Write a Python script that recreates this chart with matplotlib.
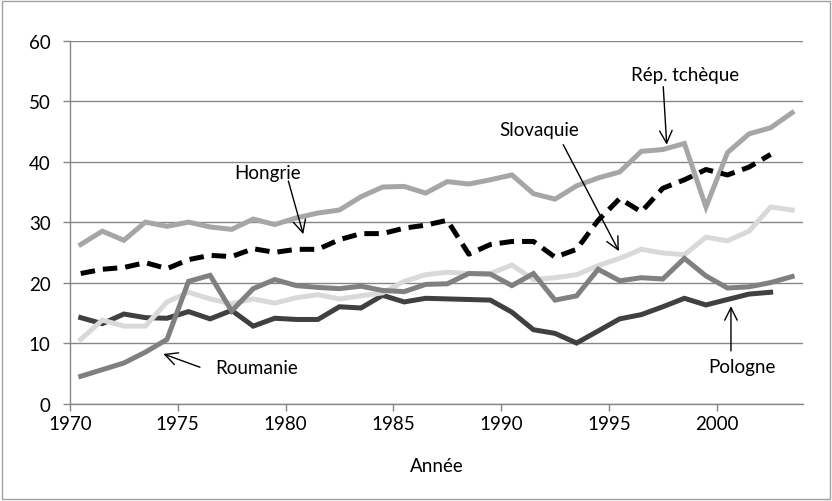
import matplotlib
matplotlib.use("Agg")
import matplotlib.pyplot as plt
from matplotlib.patches import Rectangle
import numpy as np

years = list(range(1970, 2004))

tcheque = [26.3, 28.5, 27.0, 30.0, 29.3, 30.0, 29.2, 28.8, 30.5, 29.6,
           30.7, 31.5, 32.0, 34.2, 35.8, 35.9, 34.8, 36.7, 36.3, 37.0,
           37.8, 34.7, 33.8, 36.0, 37.3, 38.3, 41.7, 42.0, 43.0, 32.5,
           41.5, 44.6, 45.6, 48.1]
hongrie = [21.5, 22.2, 22.5, 23.3, 22.3, 23.8, 24.5, 24.3, 25.6, 25.0,
           25.5, 25.5, 27.1, 28.1, 28.1, 29.0, 29.5, 30.3, 24.7, 26.3,
           26.8, 26.8, 24.2, 25.5, 30.3, 33.9, 31.7, 35.6, 37.0, 38.7,
           37.8, 39.1, 41.2]
slovaquie = [10.6, 13.8, 12.8, 12.8, 16.8, 18.4, 17.3, 16.5, 17.3, 16.6,
             17.5, 18.0, 17.3, 17.8, 18.3, 20.2, 21.3, 21.7, 21.5, 21.5,
             22.9, 20.5, 20.8, 21.3, 22.8, 24.0, 25.5, 24.9, 24.6, 27.5,
             26.9, 28.5, 32.5, 32.0]
roumanie = [4.5, 5.6, 6.7, 8.5, 10.6, 20.2, 21.2, 15.3, 19.0, 20.5,
            19.5, 19.2, 19.0, 19.4, 18.7, 18.5, 19.7, 19.8, 21.5, 21.4,
            19.5, 21.5, 17.1, 17.8, 22.2, 20.3, 20.8, 20.6, 24.0, 21.1,
            19.1, 19.3, 20.0, 21.0]
pologne = [14.2, 13.2, 14.8, 14.2, 14.1, 15.2, 14.0, 15.4, 12.8, 14.1,
           13.9, 13.9, 16.0, 15.8, 17.9, 16.8, 17.4, 17.3, 17.2, 17.1,
           15.1, 12.2, 11.6, 10.0, 12.0, 14.0, 14.7, 16.0, 17.4, 16.3,
           17.2, 18.1, 18.4]

# points sit between the year ticks, like an Excel category axis
x = np.array(years) + 0.5

plt.rcParams["font.family"] = ["Lato", "DejaVu Sans"]
fs = 13.5

fig = plt.figure(figsize=(8.32, 5.02), dpi=100)
ax = fig.add_axes([0.0841, 0.1942, 0.8810, 0.7227])

lw = 3.6
ax.plot(x[:len(pologne)], pologne, color="#404040", lw=lw, solid_joinstyle="miter")
ax.plot(x[:len(slovaquie)], slovaquie, color="#d9d9d9", lw=lw, solid_joinstyle="miter")
ax.plot(x[:len(roumanie)], roumanie, color="#808080", lw=lw, solid_joinstyle="miter")
ax.plot(x[:len(tcheque)], tcheque, color="#a6a6a6", lw=lw, solid_joinstyle="miter")
ax.plot(x[:len(hongrie)], hongrie, color="black", lw=lw, dashes=(2.9, 1.6),
        dash_capstyle="butt")

ax.set_xlim(1970, 2004)
ax.set_ylim(0, 60)
ax.set_xticks(range(1970, 2004, 5))
ax.set_yticks(range(0, 61, 10))
ax.grid(axis="y", color="#868686", lw=1)
ax.set_axisbelow(True)
for s in ("top", "right"):
    ax.spines[s].set_visible(False)
for s in ("left", "bottom"):
    ax.spines[s].set_color("#868686")
    ax.spines[s].set_linewidth(1)
ax.tick_params(axis="both", colors="#868686", labelcolor="black",
               labelsize=fs, length=5, width=1)
ax.tick_params(axis="y", pad=9)
ax.tick_params(axis="x", pad=3)
ax.set_xlabel("Année", fontsize=fs, labelpad=18)

arrow = dict(arrowstyle="->,head_length=0.9,head_width=0.45", color="black",
             lw=1, shrinkA=0, shrinkB=0)
labels = [
    ("Rép. tchèque", (1998.55, 54.4), (1997.52, 52.4), (1997.68, 42.8)),
    ("Slovaquie", (1991.75, 45.3), (1992.88, 42.8), (1995.46, 25.2)),
    ("Hongrie", (1979.18, 38.2), (1980.13, 36.8), (1980.82, 28.0)),
    ("Roumanie", (1978.67, 5.9), (1976.03, 6.0), (1974.33, 8.2)),
    ("Pologne", (2001.19, 6.1), (2000.66, 8.7), (2000.66, 16.1)),
]
for name, txt, tail, tip in labels:
    ax.text(txt[0], txt[1], name, fontsize=fs, ha="center", va="center")
    ax.annotate("", xy=tip, xytext=tail, arrowprops=arrow)

fig.patches.append(Rectangle((0.003, 0.003), 0.994, 0.994, transform=fig.transFigure,
                             fill=False, edgecolor="#a0a0a0", lw=1))

fig.savefig("out.png", dpi=100)
